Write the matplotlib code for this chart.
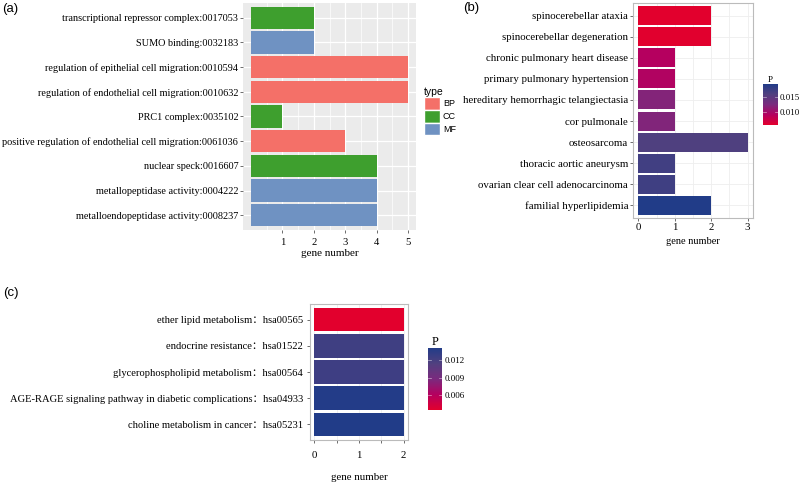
import numpy as np
import matplotlib
matplotlib.use('Agg')
import matplotlib.pyplot as plt
from matplotlib.colors import LinearSegmentedColormap, Normalize
from matplotlib.patches import Patch
import matplotlib.cm as cm

# ------------------------------
# Datos del panel (a): términos GO
go_terms = ['transcriptional repressor complex:0017053',
            'SUMO binding:0032183',
            'regulation of epithelial cell migration:0010594',
            'regulation of endothelial cell migration:0010632',
            'PRC1 complex:0035102',
            'positive regulation of endothelial cell migration:0061036',
            'nuclear speck:0016607',
            'metallopeptidase activity:0004222',
            'metalloendopeptidase activity:0008237']
go_counts = [2, 2, 5, 5, 1, 3, 4, 4, 4]
go_types = ['CC', 'MF', 'BP', 'BP', 'CC', 'BP', 'CC', 'MF', 'MF']
type_names = ['BP', 'CC', 'MF']
type_colors = {'BP': '#F47068', 'CC': '#3E9F2E', 'MF': '#6F92C2'}

# Datos del panel (b): enfermedades
dis_terms = ['spinocerebellar ataxia',
             'spinocerebellar degeneration',
             'chronic pulmonary heart disease',
             'primary pulmonary hypertension',
             'hereditary hemorrhagic telangiectasia',
             'cor pulmonale',
             'osteosarcoma',
             'thoracic aortic aneurysm',
             'ovarian clear cell adenocarcinoma',
             'familial hyperlipidemia']
dis_counts = [2, 2, 1, 1, 1, 1, 3, 1, 1, 2]
dis_p = [0.0058, 0.0059, 0.0092, 0.0094, 0.0120, 0.0121, 0.0160, 0.0170, 0.0171, 0.0192]
dis_ticks = [0.010, 0.015]

# Datos del panel (c): rutas KEGG
kegg_terms = ['ether lipid metabolism\uff1ahsa00565',
              'endocrine resistance\uff1ahsa01522',
              'glycerophospholipid metabolism\uff1ahsa00564',
              'AGE-RAGE signaling pathway in diabetic complications\uff1ahsa04933',
              'choline metabolism in cancer\uff1ahsa05231']
kegg_counts = [2, 2, 2, 2, 2]
kegg_p = [0.0034, 0.0124, 0.0125, 0.0140, 0.0141]
kegg_ticks = [0.006, 0.009, 0.012]

W, H = 800, 483
serif = ['Liberation Serif', 'Noto Sans CJK SC', 'DejaVu Serif']
sans = ['Liberation Sans', 'DejaVu Sans']
cmap = LinearSegmentedColormap.from_list(
    'p', ['#E2002D', '#B5005F', '#7A2A7E', '#51407F', '#213C88'])

fig = plt.figure(figsize=(W / 100, H / 100), dpi=100)


def px_axes(left, top, right, bottom):
    # crea ejes a partir de coordenadas en píxeles
    return fig.add_axes([left / W, 1 - bottom / H, (right - left) / W, (bottom - top) / H])


def style_bw(ax):
    ax.set_facecolor('white')
    for s in ax.spines.values():
        s.set_color('#BBBBBB')
        s.set_linewidth(0.8)
    ax.grid(True, axis='x', which='both', color='#EEEEEE', linewidth=0.6)
    ax.set_axisbelow(True)


def style_ticks(ax, ysize, xsize, xpad, ypad=1.5):
    ax.tick_params(axis='both', which='major', length=2, width=0.6, color='#555555')
    ax.tick_params(axis='x', which='minor', length=0)
    ax.tick_params(axis='y', labelsize=ysize, pad=ypad)
    ax.tick_params(axis='x', labelsize=xsize, pad=xpad)
    for lab in ax.get_xticklabels() + ax.get_yticklabels():
        lab.set_fontfamily(serif)


# ---------------- (a) ----------------
ax = px_axes(243, 3, 416, 230)
y = np.arange(len(go_terms))
ax.barh(y, go_counts, height=0.9, color=[type_colors[t] for t in go_types])
ax.set_facecolor('#EBEBEB')
for s in ax.spines.values():
    s.set_visible(False)
ax.set_xlim(-0.25, 5.25)
ax.set_ylim(len(go_terms) - 0.4, -0.6)
ax.set_xticks([1, 2, 3, 4, 5])
ax.set_xticks([0.5, 1.5, 2.5, 3.5, 4.5], minor=True)
ax.grid(True, which='major', color='white', linewidth=0.9)
ax.grid(True, which='minor', axis='x', color='white', linewidth=0.5)
ax.set_axisbelow(True)
ax.set_yticks(y)
ax.set_yticklabels(go_terms)
style_ticks(ax, 7.4, 7.6, 4)
ax.set_xlabel('gene number', fontfamily=serif, fontsize=8, labelpad=1)

handles = [Patch(facecolor=type_colors[t], edgecolor='white', label=t) for t in type_names]
leg = fig.legend(handles=handles, title='type', loc='upper left',
                 bbox_to_anchor=(424 / W, 1 - 87 / H), frameon=False,
                 prop={'family': sans, 'size': 6.5}, handlelength=1.8, handleheight=1.8,
                 handletextpad=0.3, labelspacing=0.0, borderaxespad=0, borderpad=0)
leg.get_title().set_fontfamily(sans)
leg.get_title().set_fontsize(7.5)
leg._legend_box.align = 'left'

# ---------------- (b) ----------------
normb = Normalize(min(dis_p), max(dis_p))
ax = px_axes(633, 3, 753, 218)
y = np.arange(len(dis_terms))
ax.barh(y, dis_counts, height=0.9, color=cmap(normb(dis_p)))
style_bw(ax)
ax.grid(True, axis='y', color='#EEEEEE', linewidth=0.6)
ax.set_xlim(-0.15, 3.15)
ax.set_ylim(len(dis_terms) - 0.4, -0.6)
ax.set_xticks([0, 1, 2, 3])
ax.set_xticks([0.5, 1.5, 2.5], minor=True)
ax.set_yticks(y)
ax.set_yticklabels(dis_terms)
style_ticks(ax, 7.8, 7.8, 1.5)
ax.set_xlabel('gene number', fontfamily=serif, fontsize=7.5, labelpad=4)

cax = px_axes(763, 84, 778, 125)
cb = fig.colorbar(cm.ScalarMappable(norm=normb, cmap=cmap), cax=cax, ticks=dis_ticks)
cb.outline.set_visible(False)
cb.ax.tick_params(length=0, labelsize=6.3, pad=1)
cb.ax.set_yticklabels(['%.3f' % v for v in dis_ticks], fontfamily=serif)
for v in dis_ticks:
    cb.ax.axhline(v, xmin=0, xmax=0.2, color='white', linewidth=0.5, alpha=0.6)
    cb.ax.axhline(v, xmin=0.8, xmax=1, color='white', linewidth=0.5, alpha=0.6)
cb.ax.set_title('P', fontfamily=serif, fontsize=6.5, pad=1)

# ---------------- (c) ----------------
normc = Normalize(min(kegg_p), max(kegg_p))
ax = px_axes(310, 304, 408, 440)
y = np.arange(len(kegg_terms))
ax.barh(y, kegg_counts, height=0.9, color=cmap(normc(kegg_p)))
style_bw(ax)
ax.set_xlim(-0.1, 2.1)
ax.set_ylim(len(kegg_terms) - 0.4, -0.6)
ax.set_xticks([0, 1, 2])
ax.set_xticks([0.5, 1.5], minor=True)
ax.set_yticks(y)
ax.set_yticklabels(kegg_terms)
style_ticks(ax, 7.6, 7.8, 6, ypad=3)
ax.tick_params(axis='x', which='minor', length=2, width=0.6, color='#555555')
ax.set_xlabel('gene number', fontfamily=serif, fontsize=7.8, labelpad=9)

cax = px_axes(428, 348, 442, 410)
cb = fig.colorbar(cm.ScalarMappable(norm=normc, cmap=cmap), cax=cax, ticks=kegg_ticks)
cb.outline.set_visible(False)
cb.ax.tick_params(length=0, labelsize=6.5, pad=2)
cb.ax.set_yticklabels(['%.3f' % v for v in kegg_ticks], fontfamily=serif)
for v in kegg_ticks:
    cb.ax.axhline(v, xmin=0, xmax=0.2, color='white', linewidth=0.5, alpha=0.6)
    cb.ax.axhline(v, xmin=0.8, xmax=1, color='white', linewidth=0.5, alpha=0.6)
cb.ax.set_title('P', fontfamily=serif, fontsize=9, pad=2)

# Etiquetas de los paneles
fig.text(2 / W, 1 - 9 / H, '(a)', fontfamily=sans, fontsize=9.5, va='center')
fig.text(463 / W, 1 - 8 / H, '(b)', fontfamily=sans, fontsize=9.5, va='center')
fig.text(3 / W, 1 - 293 / H, '(c)', fontfamily=sans, fontsize=9.5, va='center')

fig.savefig('out.png', dpi=100)
